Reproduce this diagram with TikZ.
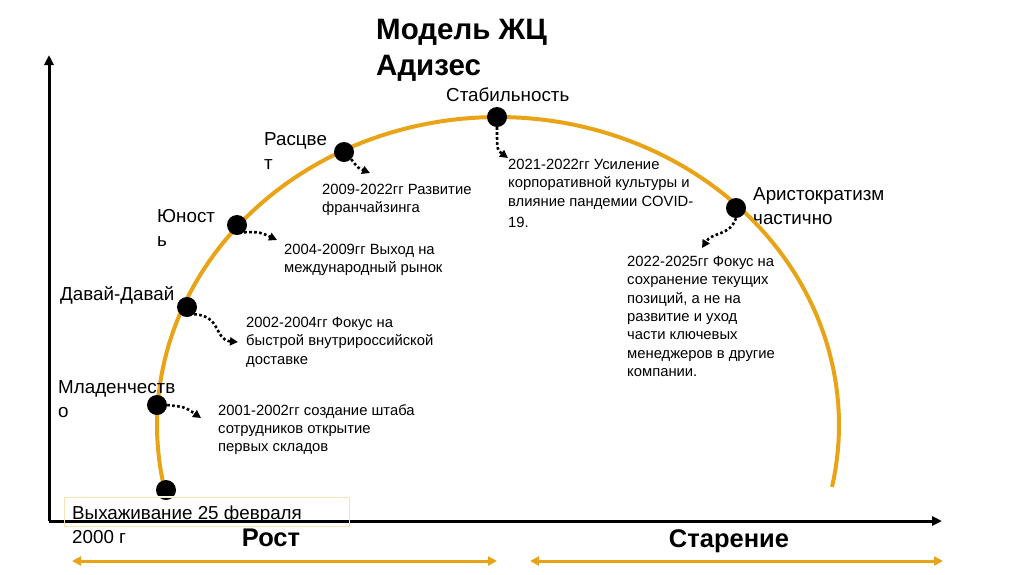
\documentclass[tikz,border=0pt]{standalone}
\usepackage{fontspec}
\setmainfont{Liberation Sans}
\usetikzlibrary{arrows.meta}
\definecolor{lcorange}{HTML}{E8A317}
\begin{document}
\begin{tikzpicture}[x=1pt,y=-1pt,
  stage/.style={font=\fontsize{18.8}{24}\selectfont, anchor=north west, inner sep=0pt, align=left},
  desc/.style={font=\fontsize{14.8}{18.3}\selectfont, anchor=north west, inner sep=0pt, align=left},
  dotnode/.style={circle, fill=black, minimum size=20pt, inner sep=0pt},
  darr/.style={line width=2.6pt, dash pattern=on 2.6pt off 2.4pt, -{Triangle[length=8pt,width=8pt]}},
  axis/.style={line width=3pt, -{Triangle[length=10pt,width=9pt]}},
  phase/.style={draw=lcorange, line width=3pt, {Triangle[length=9pt,width=9pt]}-{Triangle[length=9pt,width=9pt]}},
  big/.style={font=\bfseries\fontsize{25.5}{28}\selectfont, inner sep=0pt}
]
\useasboundingbox (0,0) rectangle (1024,574);
% axes
\coordinate (O) at (49,521);
\coordinate (ytop) at (49,55);
\coordinate (xend) at (942,521);
\draw[axis] (O) -- (ytop);
\draw[axis] (O) -- (xend);
% arc
\draw[lcorange, line width=4pt] plot[domain=167.8:371.6, samples=120] ({498+341*cos(\x)},{425+308*sin(\x)});
% dots
\node[dotnode] (d0) at (166,490) {};
\node[dotnode] (d1) at (157,405) {};
\node[dotnode] (d2) at (187,307) {};
\node[dotnode] (d3) at (237,225) {};
\node[dotnode] (d4) at (344,152) {};
\node[dotnode] (d5) at (497,117) {};
\node[dotnode] (d6) at (736,208) {};
% box of first stage
\draw[white, line width=1.5pt] (152,497) -- (180,497);
\draw[draw=lcorange!30, line width=0.6pt] (64,497) rectangle (349,526);
% stage labels
\node[stage] (s0) at (72,506) {Выхаживание 25 февраля\\2000 г};
\node[stage] (s1) at (58,380) {Младенчеств\\о};
\node[stage] (s2) at (60,286) {Давай-Давай};
\node[stage] (s3) at (157,209) {Юност\\ь};
\node[stage] (s4) at (264,132) {Расцве\\т};
\node[stage] (s5) at (446,88) {Стабильность};
\node[stage] (s6) at (753,187) {Аристократизм\\частично};
% title
\node[font=\bfseries\fontsize{29.5}{36}\selectfont, anchor=north west, inner sep=0pt, align=left] (title) at (376,19) {Модель ЖЦ\\Адизес};
% descriptions
\node[desc] (t1) at (218,404) {2001-2002гг создание штаба\\сотрудников открытие\\первых складов};
\node[desc] (t2) at (246,317) {2002-2004гг Фокус на\\быстрой внутрироссийской\\доставке};
\node[desc] (t3) at (284,244) {2004-2009гг Выход на\\международный рынок};
\node[desc] (t4) at (322,184) {2009-2022гг Развитие\\франчайзинга};
\node[desc] (t5) at (508,159) {2021-2022гг Усиление\\корпоративной культуры и\\влияние пандемии COVID-\\[3pt]19.};
\node[desc] (t6) at (627,256) {2022-2025гг Фокус на\\сохранение текущих\\позиций, а не на\\развитие и уход\\части ключевых\\менеджеров в другие\\компании.};
% dotted arrows
\coordinate (e1) at (201,418);
\coordinate (e2) at (238,342);
\coordinate (e3) at (277,240);
\coordinate (e4) at (370,173);
\coordinate (e5) at (508,158);
\coordinate (e6) at (702,248);
\draw[darr] (d1.east) .. controls (185,407) .. (e1);
\draw[darr] (d2.south east) .. controls (222,316) and (214,340) .. (e2);
\draw[darr] (d3.south east) .. controls (260,232) .. (e3);
\draw[darr] (d4.south east) .. controls (358,168) .. (e4);
\draw[darr] (d5.south) .. controls (497,150) .. (e5);
\draw[darr] (d6.south) .. controls (730,236) and (712,232) .. (e6);
% phases
\coordinate (g1) at (72,561);
\coordinate (g2) at (497,561);
\coordinate (a1) at (530,561);
\coordinate (a2) at (943,561);
\draw[phase] (g1) -- (g2);
\draw[phase] (a1) -- (a2);
\node[big, anchor=north] (rost) at (271,529) {Рост};
\node[big, anchor=north] (star) at (729,529) {Старение};
\end{tikzpicture}
\end{document}
